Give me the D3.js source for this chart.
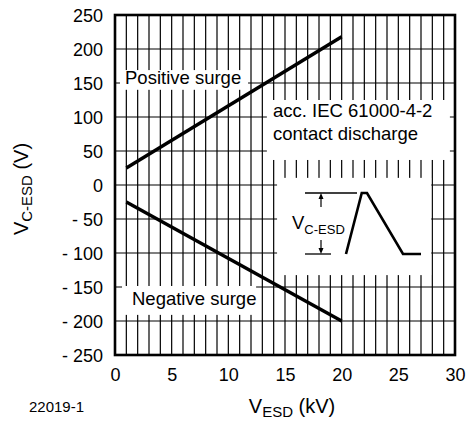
<!DOCTYPE html>
<html>
<head>
<meta charset="utf-8">
<script src="https://cdn.jsdelivr.net/npm/d3@7"></script>
<style>
  html, body { margin: 0; padding: 0; background: #fff; }
  text { font-family: "Liberation Sans", Arial, Helvetica, sans-serif; fill: #000; }
</style>
</head>
<body>
<svg id="chart" width="469" height="422"></svg>
<script>
// ---- data ----
const vEsdKV        = [1, 20];          // V_ESD (kV)
const positiveSurge = [25, 218];        // V_C-ESD (V)
const negativeSurge = [-25, -200];      // V_C-ESD (V)
const xTickValues   = [0, 5, 10, 15, 20, 25, 30];
const yTickValues   = [250, 200, 150, 100, 50, 0, -50, -100, -150, -200, -250];
const yTickLabels   = ["250", "200", "150", "100", "50", "0", "- 50", "- 100", "- 150", "- 200", "- 250"];
const xGridValues   = d3.range(0, 31, 1);
const yGridValues   = d3.range(-250, 251, 50);
// schematic inset waveform (time units, normalised amplitude)
const insetT = [0, 1.05, 1.4, 3.8, 5];
const insetV = [0, 1, 1, 0, 0];

const svg = d3.select("#chart");
const margin = {left: 115, top: 15, right: 14, bottom: 67};
const W = 469, H = 422;
const x = d3.scaleLinear().domain([0, 30]).range([margin.left, W - margin.right]);
const y = d3.scaleLinear().domain([-250, 250]).range([H - margin.bottom, margin.top]);

// grid
const grid = svg.append("g");
grid.selectAll("line.v").data(xGridValues).enter().append("line")
  .attr("x1", d => x(d)).attr("x2", d => x(d))
  .attr("y1", y(250)).attr("y2", y(-250))
  .attr("stroke", "#000").attr("stroke-width", 1.2);
grid.selectAll("line.h").data(yGridValues).enter().append("line")
  .attr("x1", x(0)).attr("x2", x(30))
  .attr("y1", d => y(d)).attr("y2", d => y(d))
  .attr("stroke", "#000").attr("stroke-width", 1.2);

// white label boxes (in data units)
const boxes = [
  {x0: 0.44, x1: 11.74, y0: 169, y1: 140},
  {x0: 13.4, x1: 29.55, y0: 125, y1: 36.8},
  {x0: 14.3, x1: 27.9, y0: 10.5, y1: -132.5},
  {x0: 0.62, x1: 12.45, y0: -148.5, y1: -191}
];
svg.append("g").selectAll("rect").data(boxes).enter().append("rect")
  .attr("x", d => x(d.x0)).attr("y", d => y(d.y0))
  .attr("width", d => x(d.x1) - x(d.x0)).attr("height", d => y(d.y1) - y(d.y0))
  .attr("fill", "#fff");

// frame
svg.append("rect")
  .attr("x", x(0)).attr("y", y(250))
  .attr("width", x(30) - x(0)).attr("height", y(-250) - y(250))
  .attr("fill", "none").attr("stroke", "#000").attr("stroke-width", 2.6);

// data lines
const line = d3.line().x(d => x(d[0])).y(d => y(d[1]));
[positiveSurge, negativeSurge].forEach(s => {
  svg.append("path").datum(vEsdKV.map((v, i) => [v, s[i]]))
    .attr("d", line).attr("fill", "none")
    .attr("stroke", "#000").attr("stroke-width", 3.4);
});

// axes tick labels
const xAxis = d3.axisBottom(x).tickValues(xTickValues).tickSize(0).tickPadding(14);
const gx = svg.append("g").attr("transform", `translate(0,${y(-250)})`).call(xAxis);
gx.select(".domain").remove();
gx.selectAll("text").style("font-size", "18px").style("font-family", "Liberation Sans, Arial, sans-serif")
  .attr("dy", "0.71em").attr("y", 13);

const yAxis = d3.axisLeft(y).tickValues(yTickValues)
  .tickFormat((d, i) => yTickLabels[i]).tickSize(0).tickPadding(12);
const gy = svg.append("g").attr("transform", `translate(${x(0)},0)`).call(yAxis);
gy.select(".domain").remove();
gy.selectAll("text").style("font-size", "18px").style("font-family", "Liberation Sans, Arial, sans-serif")
  .attr("dy", "0.36em");

// axis titles
const xt = svg.append("text").attr("x", 292).attr("y", 413).attr("text-anchor", "middle")
  .style("font-size", "20px");
xt.append("tspan").text("V");
xt.append("tspan").text("ESD").style("font-size", "15px").attr("dy", 4);
xt.append("tspan").text(" (kV)").attr("dy", -4);

const yt = svg.append("text").attr("transform", "translate(28,189) rotate(-90)")
  .attr("text-anchor", "middle").style("font-size", "20px");
yt.append("tspan").text("V");
yt.append("tspan").text("C-ESD").style("font-size", "15px").attr("dy", 4);
yt.append("tspan").text(" (V)").attr("dy", -4);

svg.append("text").attr("x", 29).attr("y", 412).style("font-size", "15px").text("22019-1");

// annotations
const lbl = (t, px, py) => svg.append("text").attr("x", px).attr("y", py)
  .style("font-size", "18.5px").text(t);
lbl("Positive surge", 125, 84);
lbl("acc. IEC 61000-4-2", 273, 117);
lbl("contact discharge", 273, 140);
lbl("Negative surge", 132, 305);

// inset schematic
const ix = d3.scaleLinear().domain([0, 5]).range([346, 421]);
const iy = d3.scaleLinear().domain([0, 1]).range([254, 193]);
const ins = svg.append("g");
ins.append("path").datum(insetT.map((t, i) => [t, insetV[i]]))
  .attr("d", d3.line().x(d => ix(d[0])).y(d => iy(d[1])))
  .attr("fill", "none").attr("stroke", "#000").attr("stroke-width", 2.6).attr("stroke-linejoin", "miter");
ins.append("line").attr("x1", 305).attr("x2", 357).attr("y1", iy(1)).attr("y2", iy(1))
  .attr("stroke", "#000").attr("stroke-width", 1.3);
ins.append("line").attr("x1", 305).attr("x2", 331).attr("y1", iy(0)).attr("y2", iy(0))
  .attr("stroke", "#000").attr("stroke-width", 1.3);
// arrows
const ax = 321;
ins.append("line").attr("x1", ax).attr("x2", ax).attr("y1", iy(1) + 3).attr("y2", 207)
  .attr("stroke", "#000").attr("stroke-width", 1.2);
ins.append("path").attr("d", `M${ax},${iy(1)} l-2.5,6 l5,0 z`).attr("fill", "#000");
ins.append("line").attr("x1", ax).attr("x2", ax).attr("y1", 240).attr("y2", iy(0) - 3)
  .attr("stroke", "#000").attr("stroke-width", 1.2);
ins.append("path").attr("d", `M${ax},${iy(0)} l-2.5,-6 l5,0 z`).attr("fill", "#000");
const vt = ins.append("text").attr("x", 292).attr("y", 229).style("font-size", "18.5px");
vt.append("tspan").text("V");
vt.append("tspan").text("C-ESD").style("font-size", "13px").attr("dy", 5);
</script>
</body>
</html>
